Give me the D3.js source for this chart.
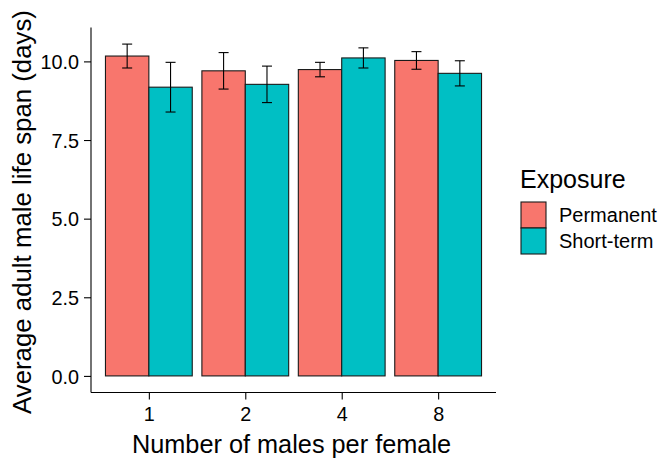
<!DOCTYPE html>
<html>
<head>
<meta charset="utf-8">
<script src="https://cdn.jsdelivr.net/npm/d3@7"></script>
<style>
  body { margin: 0; background: #fff; }
  svg text { font-family: "Liberation Sans", Arial, sans-serif; fill: #000; }
</style>
</head>
<body>
<svg id="chart" width="663" height="459"></svg>
<script>
// Male life span by number of males per female and exposure type
const groups = ["1", "2", "4", "8"];
const exposures = ["Permanent", "Short-term"];
const permanentMean = [10.17, 9.70, 9.74, 10.03];
const permanentSE   = [0.38, 0.58, 0.23, 0.28];
const shortMean     = [9.18, 9.27, 10.11, 9.62];
const shortSE       = [0.79, 0.58, 0.32, 0.40];
const yTicks = [0, 2.5, 5, 7.5, 10];
const colors = ["#F8766D", "#00BFC4"];

const rows = [];
groups.forEach((g, i) => {
  rows.push({ group: g, exposure: exposures[0], mean: permanentMean[i], se: permanentSE[i] });
  rows.push({ group: g, exposure: exposures[1], mean: shortMean[i], se: shortSE[i] });
});

const svg = d3.select("#chart");
const panel = { left: 91, right: 496, top: 27.5, bottom: 392.5 };

// discrete x with ggplot-style 0.6 expansion
const x = d3.scalePoint().domain(groups).range([panel.left, panel.right]).padding(0.6);
const step = x.step();
const groupW = step * 0.9;
const xInner = d3.scaleBand().domain(exposures).range([-groupW / 2, groupW / 2]).padding(0);

const yMax = d3.max(rows, d => d.mean + d.se);
const y = d3.scaleLinear().domain([-0.05 * yMax, 1.05 * yMax]).range([panel.bottom, panel.top]);
const color = d3.scaleOrdinal().domain(exposures).range(colors);

// bars
svg.append("g").selectAll("rect").data(rows).join("rect")
  .attr("x", d => x(d.group) + xInner(d.exposure))
  .attr("y", d => y(d.mean))
  .attr("width", xInner.bandwidth())
  .attr("height", d => y(0) - y(d.mean))
  .attr("fill", d => color(d.exposure))
  .attr("stroke", "#1a1a1a")
  .attr("stroke-width", 1.1);

// error bars
const capW = 10;
const eb = svg.append("g").attr("stroke", "#000").attr("stroke-width", 1.1).attr("fill", "none");
rows.forEach(d => {
  const cx = x(d.group) + xInner(d.exposure) + xInner.bandwidth() / 2;
  const y1 = y(d.mean + d.se), y2 = y(d.mean - d.se);
  eb.append("line").attr("x1", cx).attr("x2", cx).attr("y1", y1).attr("y2", y2);
  eb.append("line").attr("x1", cx - capW / 2).attr("x2", cx + capW / 2).attr("y1", y1).attr("y2", y1);
  eb.append("line").attr("x1", cx - capW / 2).attr("x2", cx + capW / 2).attr("y1", y2).attr("y2", y2);
});

// y axis
const yAxis = svg.append("g").attr("transform", `translate(${panel.left},0)`)
  .call(d3.axisLeft(y).tickValues(yTicks).tickFormat(d3.format(".1f")).tickSize(7).tickSizeOuter(0));
yAxis.select(".domain").attr("d", `M0,${panel.top}V${panel.bottom}`).attr("stroke", "#000").attr("stroke-width", 1.1);
yAxis.selectAll(".tick line").attr("stroke", "#000").attr("stroke-width", 1.1);
yAxis.selectAll(".tick text").attr("font-size", 19.8).attr("fill", "#2b2b2b").attr("x", -12).attr("dy", "0.36em")
  .style("font-family", "'Liberation Sans', Arial, sans-serif");

// x axis
const xAxis = svg.append("g").attr("transform", `translate(0,${panel.bottom})`)
  .call(d3.axisBottom(x).tickSize(7).tickSizeOuter(0));
xAxis.select(".domain").attr("d", `M${panel.left},0H${panel.right}`).attr("stroke", "#000").attr("stroke-width", 1.1);
xAxis.selectAll(".tick line").attr("stroke", "#000").attr("stroke-width", 1.1);
xAxis.selectAll(".tick text").attr("font-size", 19.8).attr("fill", "#2b2b2b").attr("y", 28).attr("dy", 0)
  .style("font-family", "'Liberation Sans', Arial, sans-serif");

// axis titles
svg.append("text").attr("x", (panel.left + panel.right) / 2 - 2).attr("y", 453)
  .attr("text-anchor", "middle").attr("font-size", 25.3).text("Number of males per female");
svg.append("text").attr("transform", `translate(31,${(panel.top + panel.bottom) / 2 + 2}) rotate(-90)`)
  .attr("text-anchor", "middle").attr("font-size", 25.8).text("Average adult male life span (days)");

// legend
const legend = svg.append("g").attr("transform", "translate(521,0)");
legend.append("text").attr("x", -1).attr("y", 188).attr("font-size", 25).text("Exposure");
exposures.forEach((e, i) => {
  const top = 202 + i * 26;
  legend.append("rect").attr("x", 0).attr("y", top).attr("width", 25).attr("height", 26)
    .attr("fill", color(e)).attr("stroke", "#1a1a1a").attr("stroke-width", 1.1);
  legend.append("text").attr("x", 38).attr("y", top + 13).attr("dy", "0.36em")
    .attr("font-size", 20).text(e);
});
</script>
</body>
</html>
